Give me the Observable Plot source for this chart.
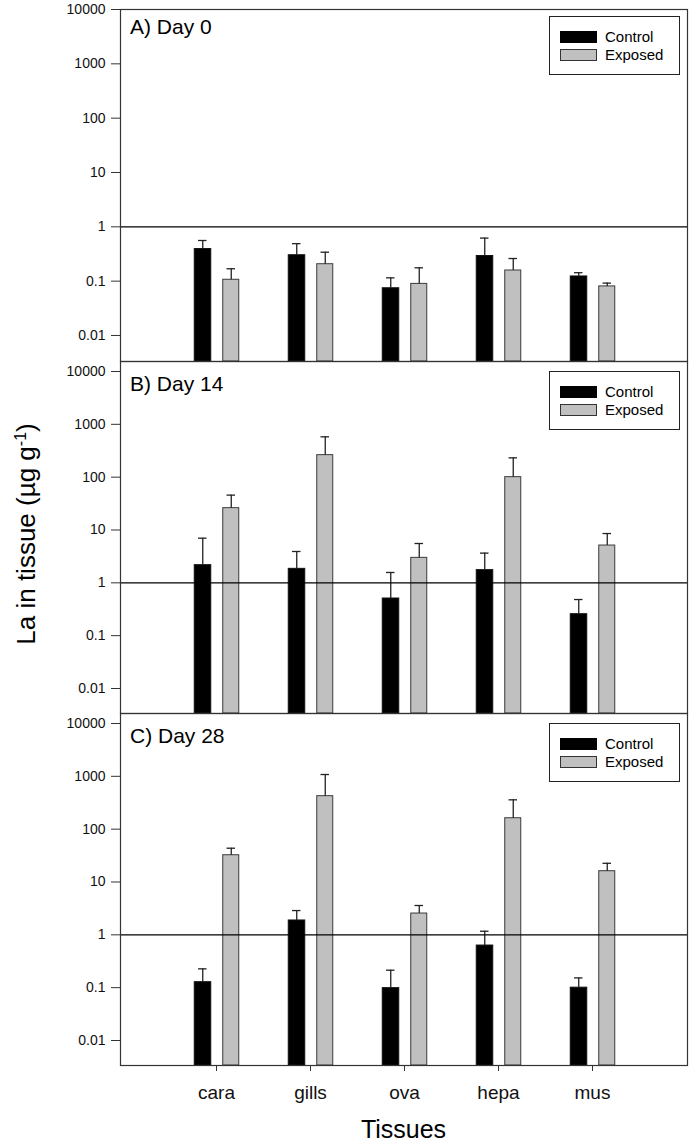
<!DOCTYPE html>
<html>
<head>
<meta charset="utf-8">
<script src="https://cdn.jsdelivr.net/npm/d3@7"></script>
<script src="https://cdn.jsdelivr.net/npm/@observablehq/plot@0.6"></script>
<style>
  body { margin: 0; background: #fff; font-family: "Liberation Sans", Arial, sans-serif; }
  #wrap { position: relative; width: 691px; height: 1146px; background: #fff; }
  .panel { position: absolute; left: 0; }
  .ptitle { position: absolute; left: 130px; font-size: 21px; line-height: 21px; color: #000; white-space: nowrap; }
  .legend { position: absolute; left: 549px; width: 129px; height: 57px; border: 1px solid #222; background: #fff; }
  .legend .sw { position: absolute; left: 10px; width: 35px; height: 10px; border: 1px solid #333; }
  .legend .lt { position: absolute; left: 55px; font-size: 15px; line-height: 15px; color: #000; white-space: nowrap; }
  #ytitle { position: absolute; left: -174px; top: 521px; width: 400px; height: 26px; line-height: 26px; font-size: 26px; text-align: center; transform: rotate(-90deg); white-space: nowrap; color: #000; }
  #ytitle sup { font-size: 16px; line-height: 0; vertical-align: 0.55em; }
  #xtitle { position: absolute; left: 120px; width: 567px; top: 1115px; height: 28px; line-height: 28px; font-size: 25px; text-align: center; color: #000; }
</style>
</head>
<body>
<div id="wrap">
  <div id="ytitle">La in tissue (µg g<sup>-1</sup>)</div>
  <div id="xtitle">Tissues</div>
</div>
<script>
// ---- data ----
const tissues = ["cara", "gills", "ova", "hepa", "mus"];
const groups = ["Control", "Exposed"];
const yTicks = [0.01, 0.1, 1, 10, 100, 1000, 10000];
const yTickLabels = ["0.01", "0.1", "1", "10", "100", "1000", "10000"];
const panelTitles = ["A) Day 0", "B) Day 14", "C) Day 28"];

const day0Control    = [0.39, 0.30, 0.074, 0.29, 0.122];
const day0ControlHi  = [0.56, 0.49, 0.115, 0.62, 0.143];
const day0Exposed    = [0.106, 0.205, 0.089, 0.157, 0.080];
const day0ExposedHi  = [0.169, 0.341, 0.176, 0.261, 0.092];

const day14Control   = [2.16, 1.84, 0.505, 1.74, 0.255];
const day14ControlHi = [7.0, 3.92, 1.57, 3.65, 0.483];
const day14Exposed   = [25.9, 261, 2.97, 100, 5.08];
const day14ExposedHi = [45.7, 580, 5.55, 232, 8.57];

const day28Control   = [0.127, 1.87, 0.098, 0.627, 0.100];
const day28ControlHi = [0.227, 2.88, 0.214, 1.17, 0.153];
const day28Exposed   = [32.1, 421, 2.53, 161, 16.0];
const day28ExposedHi = [43.6, 1082, 3.59, 359, 22.6];

// ---- drawing ----
const FONT = '"Liberation Sans", Arial, sans-serif';
const wrap = document.getElementById("wrap");

function rows(vals, his) {
  return tissues.map((t, i) => ({ tissue: t, value: vals[i], hi: his[i] }));
}

function panel(opts) {
  const ctrl = rows(opts.ctrl, opts.ctrlHi);
  const expo = rows(opts.expo, opts.expoHi);
  const yMin = opts.domain[0];
  const marks = [
    Plot.barY(ctrl, { x: "tissue", y1: yMin, y2: "value", fill: "#000", stroke: "#111", strokeWidth: 1, insetLeft: 25.25, insetRight: 52.25 }),
    Plot.barY(expo, { x: "tissue", y1: yMin, y2: "value", fill: "#c0c0c0", stroke: "#3a3a3a", strokeWidth: 1, insetLeft: 53.75, insetRight: 24.25 }),
    Plot.ruleX(ctrl, { x: "tissue", y1: "value", y2: "hi", dx: -13.75, stroke: "#222", strokeWidth: 1.3 }),
    Plot.ruleX(expo, { x: "tissue", y1: "value", y2: "hi", dx: 14.75, stroke: "#222", strokeWidth: 1.3 }),
    Plot.tickY(ctrl, { x: "tissue", y: "hi", insetLeft: 29, insetRight: 56.5, stroke: "#222", strokeWidth: 1.3 }),
    Plot.tickY(expo, { x: "tissue", y: "hi", insetLeft: 57.5, insetRight: 28, stroke: "#222", strokeWidth: 1.3 }),
    Plot.ruleY([1], { stroke: "#000", strokeWidth: 1.2 }),
    Plot.axisY({ ticks: yTicks, tickFormat: d => yTickLabels[yTicks.indexOf(d)], tickSize: 9, tickPadding: 6, fontSize: 14, stroke: "#333", fill: "#111" }),
    Plot.frame({ stroke: "#333", strokeWidth: 1.2 })
  ];
  if (opts.xAxis) {
    marks.push(Plot.axisX({ tickSize: 6, tickPadding: 14, fontSize: 19, stroke: "#333", fill: "#111" }));
  }
  const svg = Plot.plot({
    width: 691,
    height: opts.height,
    marginLeft: 120,
    marginRight: 4,
    marginTop: opts.mt,
    marginBottom: opts.mb,
    style: { background: "transparent", overflow: "visible", fontFamily: FONT },
    x: { type: "band", domain: tissues, paddingInner: 0, paddingOuter: 0.5, axis: null, label: null },
    y: { type: "log", domain: opts.domain, axis: null, label: null },
    marks
  });
  svg.classList.add("panel");
  svg.style.position = "absolute";
  svg.style.top = opts.top + "px";
  svg.style.left = "0px";
  wrap.appendChild(svg);

  const title = document.createElement("div");
  title.className = "ptitle";
  title.style.top = opts.titleTop + "px";
  title.textContent = opts.title;
  wrap.appendChild(title);

  const lg = document.createElement("div");
  lg.className = "legend";
  lg.style.top = opts.legendTop + "px";
  const fills = ["#000", "#c0c0c0"];
  const swTops = [14, 32];
  const txtTops = [11.5, 29.5];
  groups.forEach((g, i) => {
    const sw = document.createElement("div");
    sw.className = "sw";
    sw.style.top = swTops[i] + "px";
    sw.style.background = fills[i];
    if (i === 0) sw.style.borderColor = "#000";
    lg.appendChild(sw);
    const lt = document.createElement("div");
    lt.className = "lt";
    lt.style.top = txtTops[i] + "px";
    lt.textContent = g;
    lg.appendChild(lt);
  });
  wrap.appendChild(lg);
}

panel({ ctrl: day0Control, ctrlHi: day0ControlHi, expo: day0Exposed, expoHi: day0ExposedHi,
  domain: [Math.pow(10, -2.479), 10000], top: 0, height: 363, mt: 9, mb: 2,
  title: panelTitles[0], titleTop: 16, legendTop: 16, xAxis: false });
panel({ ctrl: day14Control, ctrlHi: day14ControlHi, expo: day14Exposed, expoHi: day14ExposedHi,
  domain: [Math.pow(10, -2.473), Math.pow(10, 4.189)], top: 359, height: 356, mt: 2, mb: 2,
  title: panelTitles[1], titleTop: 373, legendTop: 371, xAxis: false });
panel({ ctrl: day28Control, ctrlHi: day28ControlHi, expo: day28Exposed, expoHi: day28ExposedHi,
  domain: [Math.pow(10, -2.473), Math.pow(10, 4.189)], top: 711, height: 399, mt: 2, mb: 45,
  title: panelTitles[2], titleTop: 725, legendTop: 723, xAxis: true });

// keep axis titles on top
wrap.appendChild(document.getElementById("ytitle"));
wrap.appendChild(document.getElementById("xtitle"));
</script>
</body>
</html>
